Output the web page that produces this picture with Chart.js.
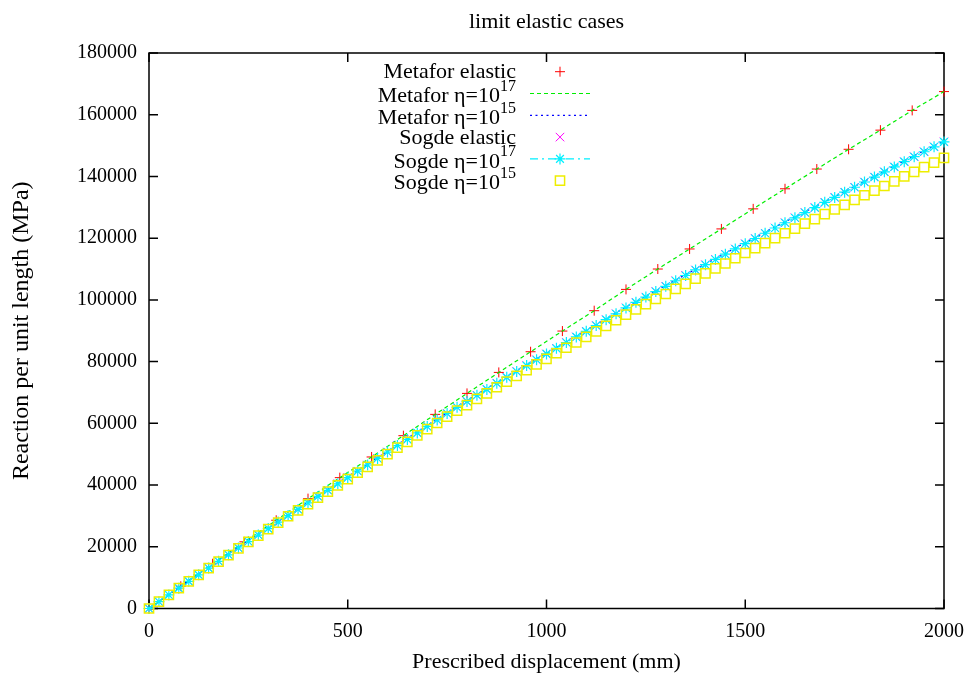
<!DOCTYPE html>
<html><head><meta charset="utf-8">
<script src="https://cdn.jsdelivr.net/npm/chart.js@4.4.1/dist/chart.umd.min.js"></script>
<style>html,body{margin:0;padding:0;background:#fff}#wrap{width:970px;height:675px}</style>
</head><body><div id="wrap"><canvas id="c" width="970" height="675"></canvas></div>
<script>
const titleText = 'limit elastic cases';
const xTitle = 'Prescribed displacement (mm)';
const yTitle = 'Reaction per unit length (MPa)';
const xTicks = [0, 500, 1000, 1500, 2000];
const yTicks = [0, 20000, 40000, 60000, 80000, 100000, 120000, 140000, 160000, 180000];
const seriesBase = ['Metafor elastic', 'Metafor \u03b7=10', 'Metafor \u03b7=10', 'Sogde elastic', 'Sogde \u03b7=10', 'Sogde \u03b7=10'];
const seriesSup  = ['', '17', '15', '', '17', '15'];

const metaforDisp = [0,80,160,240,320,400,480,560,640,720,800,880,960,1040,1120,1200,1280,1360,1440,1520,1600,1680,1760,1840,1920,2000];
const metaforElastic = [0,7200,14500,21600,28600,35600,42400,49100,56000,62900,69700,76500,83200,89900,96500,103400,110000,116500,123000,129500,136000,142400,148800,155000,161400,167500];
const metaforEta17 = [0,7200,14500,21600,28600,35600,42400,49100,56000,62900,69700,76500,83200,89900,96500,103400,110000,116500,123000,129500,136000,142400,148800,155000,161400,167500];
const metaforEta15 = [0,7300,14300,21200,27900,34500,41100,47600,54300,61000,67400,73700,79800,85700,91600,97700,103300,108900,114400,119900,125300,130500,135800,141100,146400,151500];

const sogdeDisp = [0,25,50,75,100,125,150,175,200,225,250,275,300,325,350,375,400,425,450,475,500,525,550,575,600,625,650,675,700,725,750,775,800,825,850,875,900,925,950,975,1000,1025,1050,1075,1100,1125,1150,1175,1200,1225,1250,1275,1300,1325,1350,1375,1400,1425,1450,1475,1500,1525,1550,1575,1600,1625,1650,1675,1700,1725,1750,1775,1800,1825,1850,1875,1900,1925,1950,1975,2000];
const sogdeElastic = [0,2200,4400,6600,8800,10900,13100,15300,17400,19600,21700,23800,25900,28000,30100,32100,34200,36300,38300,40400,42400,44500,46500,48600,50700,52800,54800,56900,59000,61100,63200,65200,67100,69100,71000,73000,74900,76800,78700,80600,82500,84300,86200,88000,89800,91700,93600,95500,97400,99200,100900,102700,104400,106200,107900,109700,111400,113100,114800,116500,118200,119900,121600,123300,125000,126600,128300,129900,131600,133200,134900,136500,138200,139800,141500,143100,144800,146400,148000,149600,151200];
const sogdeEta17 = [0,2200,4400,6600,8800,10900,13100,15300,17400,19600,21700,23800,25900,28000,30100,32100,34200,36300,38300,40400,42400,44500,46500,48600,50700,52800,54800,56900,59000,61100,63200,65200,67100,69100,71000,73000,74900,76800,78700,80600,82500,84300,86200,88000,89800,91700,93600,95500,97400,99200,100900,102700,104400,106200,107900,109700,111400,113100,114800,116500,118200,119900,121600,123300,125000,126600,128300,129900,131600,133200,134900,136500,138200,139800,141500,143100,144800,146400,148000,149600,151200];
const sogdeEta15 = [0,2200,4400,6600,8800,10900,13100,15200,17300,19500,21600,23600,25700,27800,29900,31800,33800,35900,37900,39900,41900,44000,45900,48000,50000,52100,54000,56100,58100,60100,62200,64100,65900,67900,69700,71700,73500,75400,77200,79100,80900,82700,84500,86200,88000,89800,91600,93400,95200,96900,98600,100300,101900,103600,105200,106900,108600,110200,111800,113500,115200,116800,118400,120000,121600,123100,124700,126200,127800,129300,130800,132400,133900,135400,136900,138400,140000,141500,143000,144500,146000];

const FONT = 'Liberation Serif';
const pts = (xs, ys) => xs.map((x, i) => ({x: x, y: ys[i]}));

const styles = [
  {color:'#ff0000', line:false, dash:[], point:'cross', r:5, bw:1},
  {color:'#00ee00', line:true, dash:[4,3], point:false, r:0, bw:1.2},
  {color:'#0000ff', line:true, dash:[2,3.5], point:false, r:0, bw:1.2},
  {color:'#ff00ff', line:false, dash:[], point:'crossRot', r:6, bw:1},
  {color:'#00f0ff', line:true, dash:[8,4,2,4], point:'star', r:5.5, bw:1.2},
  {color:'#eeee00', line:false, dash:[], point:'rect', r:6.5, bw:1.5}
];
const dataSets = [
  pts(metaforDisp, metaforElastic), pts(metaforDisp, metaforEta17), pts(metaforDisp, metaforEta15),
  pts(sogdeDisp, sogdeElastic), pts(sogdeDisp, sogdeEta17), pts(sogdeDisp, sogdeEta15)
];

const datasets = dataSets.map((d, i) => {
  const s = styles[i];
  return {
    label: seriesBase[i] + seriesSup[i],
    data: d,
    showLine: s.line,
    borderColor: s.color,
    backgroundColor: 'rgba(0,0,0,0)',
    borderWidth: s.bw,
    borderDash: s.dash,
    pointStyle: s.point,
    pointRadius: s.r,
    pointHoverRadius: s.r,
    pointBorderColor: s.color,
    pointBackgroundColor: 'rgba(0,0,0,0)',
    pointBorderWidth: s.bw,
    order: 6 - i,
    clip: false,
    tension: 0
  };
});

const framePlugin = {
  id: 'frame',
  beforeDatasetsDraw(chart) {
    const {ctx, chartArea: a, scales: {x, y}} = chart;
    ctx.save();
    ctx.strokeStyle = '#000';
    ctx.lineWidth = 1.5;
    ctx.strokeRect(a.left, a.top, a.right - a.left, a.bottom - a.top);
    ctx.beginPath();
    x.ticks.forEach(t => {
      const px = x.getPixelForValue(t.value);
      ctx.moveTo(px, a.bottom); ctx.lineTo(px, a.bottom - 9);
      ctx.moveTo(px, a.top); ctx.lineTo(px, a.top + 9);
    });
    y.ticks.forEach(t => {
      const py = y.getPixelForValue(t.value);
      ctx.moveTo(a.left, py); ctx.lineTo(a.left + 9, py);
      ctx.moveTo(a.right, py); ctx.lineTo(a.right - 9, py);
    });
    ctx.stroke();
    ctx.restore();
  }
};

const keyPlugin = {
  id: 'key',
  afterDatasetsDraw(chart) {
    const ctx = chart.ctx;
    const textRight = 516, x0 = 530, x1 = 590, xm = 560, yStart = 71.7, step = 21.8;
    ctx.save();
    ctx.fillStyle = '#000';
    ctx.textBaseline = 'middle';
    for (let i = 0; i < seriesBase.length; i++) {
      const yy = yStart + i * step;
      const s = styles[i];
      const sup = seriesSup[i];
      let right = textRight;
      const ty = sup ? yy + 3 : yy + 1;
      if (sup) {
        ctx.font = '16px "' + FONT + '"';
        const w = ctx.measureText(sup).width;
        ctx.textAlign = 'left';
        ctx.fillText(sup, right - w, ty - 10);
        right -= w;
      }
      ctx.font = '22px "' + FONT + '"';
      ctx.textAlign = 'right';
      ctx.fillText(seriesBase[i], right, ty);
      if (s.line) {
        ctx.beginPath();
        ctx.strokeStyle = s.color;
        ctx.lineWidth = s.bw;
        ctx.setLineDash(s.dash);
        ctx.moveTo(x0, yy); ctx.lineTo(x1, yy);
        ctx.stroke();
        ctx.setLineDash([]);
      }
      if (s.point) {
        ctx.strokeStyle = s.color;
        ctx.fillStyle = 'rgba(0,0,0,0)';
        ctx.lineWidth = s.bw;
        Chart.helpers.drawPoint(ctx, {pointStyle: s.point, radius: s.r, rotation: 0, borderWidth: s.bw}, xm, yy);
        ctx.fillStyle = '#000';
      }
    }
    ctx.restore();
  }
};

new Chart(document.getElementById('c'), {
  type: 'scatter',
  data: {datasets: datasets},
  options: {
    responsive: false,
    animation: false,
    devicePixelRatio: 1,
    layout: {padding: {left: 0, right: 26, top: 0, bottom: 0}},
    plugins: {
      legend: {display: false},
      tooltip: {enabled: false},
      title: {
        display: true, text: titleText, color: '#000', fullSize: false,
        font: {family: FONT, size: 22, weight: 'normal'},
        padding: {top: 9, bottom: 17.6}
      }
    },
    scales: {
      x: {
        type: 'linear', min: 0, max: 2000,
        afterFit: s => { s.height = 66.5; s.paddingLeft = 0; s.paddingRight = 0; },
        afterBuildTicks: s => { s.ticks = xTicks.map(v => ({value: v})); },
        grid: {display: false, drawTicks: false},
        border: {display: false},
        ticks: {color: '#000', padding: 11.5, maxRotation: 0, font: {family: FONT, size: 20}, callback: v => String(v)},
        title: {display: true, text: xTitle, color: '#000', font: {family: FONT, size: 22}, padding: {top: 0, bottom: 0}}
      },
      y: {
        type: 'linear', min: 0, max: 180000,
        afterFit: s => { s.width = 149; s.paddingTop = 0; s.paddingBottom = 0; },
        afterBuildTicks: s => { s.ticks = yTicks.map(v => ({value: v})); },
        grid: {display: false, drawTicks: false},
        border: {display: false},
        ticks: {color: '#000', padding: 12, font: {family: FONT, size: 20}, callback: v => String(v)},
        title: {display: true, text: yTitle, color: '#000', font: {family: FONT, size: 24}, padding: {top: 7, bottom: 0}}
      }
    }
  },
  plugins: [framePlugin, keyPlugin]
});
</script>
</body></html>
